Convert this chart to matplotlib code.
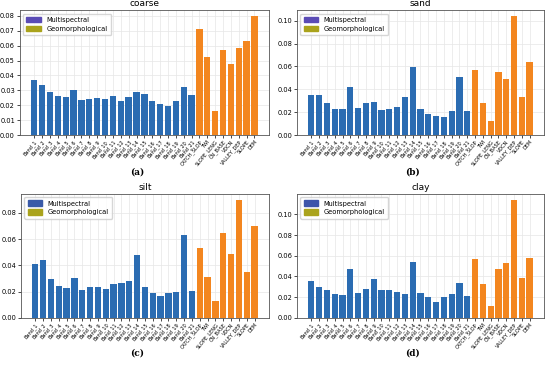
import matplotlib
matplotlib.use('Agg')
import matplotlib.pyplot as plt
from matplotlib.patches import Patch

#------------------------------------------------------------------------------
# DATA (feature importances)

bands = ['Band_%d' % i for i in range(1, 22)]
geomorph = ['CATCH_SLOP', 'TWI', 'SLOPE_LENG', 'CN_BASE', 'VDCN', 'VALLEY_DEP', 'SLOPE', 'DEM']

coarse_ms = [0.0369, 0.0335, 0.0291, 0.0261, 0.0253, 0.0302, 0.0235, 0.0241, 0.0246, 0.0239, 0.0261,
             0.0230, 0.0255, 0.0288, 0.0277, 0.0226, 0.0210, 0.0197, 0.0226, 0.0322, 0.0266]
coarse_geo = [0.0713, 0.0527, 0.0163, 0.0570, 0.0476, 0.0583, 0.0632, 0.0798]

sand_ms = [0.0350, 0.0347, 0.0277, 0.0224, 0.0224, 0.0417, 0.0233, 0.0277, 0.0289, 0.0219, 0.0224,
           0.0245, 0.0330, 0.0592, 0.0230, 0.0180, 0.0163, 0.0155, 0.0210, 0.0510, 0.0210]
sand_geo = [0.0569, 0.0283, 0.0120, 0.0551, 0.0490, 0.1040, 0.0335, 0.0641]

silt_ms = [0.0413, 0.0438, 0.0299, 0.0243, 0.0225, 0.0304, 0.0210, 0.0235, 0.0235, 0.0220, 0.0261,
           0.0266, 0.0281, 0.0476, 0.0233, 0.0192, 0.0170, 0.0190, 0.0197, 0.0628, 0.0208]
silt_geo = [0.0532, 0.0314, 0.0129, 0.0646, 0.0489, 0.0899, 0.0352, 0.0699]

clay_ms = [0.0353, 0.0301, 0.0266, 0.0234, 0.0224, 0.0474, 0.0240, 0.0279, 0.0372, 0.0269, 0.0266,
           0.0247, 0.0234, 0.0542, 0.0240, 0.0199, 0.0157, 0.0199, 0.0231, 0.0337, 0.0208]
clay_geo = [0.0564, 0.0324, 0.0119, 0.0474, 0.0529, 0.1141, 0.0388, 0.0583]

titles = ['coarse', 'sand', 'silt', 'clay']
panels = ['(a)', '(b)', '(c)', '(d)']
ms_data = [coarse_ms, sand_ms, silt_ms, clay_ms]
geo_data = [coarse_geo, sand_geo, silt_geo, clay_geo]

#------------------------------------------------------------------------------
# PLOT

fig = plt.figure(figsize=(5.5, 3.65), dpi=100)

# axes positions [left, bottom, width, height] in figure fraction
positions = [[0.036, 0.630, 0.453, 0.342],
             [0.540, 0.630, 0.449, 0.342],
             [0.038, 0.129, 0.451, 0.340],
             [0.540, 0.129, 0.449, 0.340]]
label_xy = [(0.249, 0.528), (0.750, 0.528), (0.249, 0.033), (0.750, 0.033)]
ms_legend_col = ['#5a4bb5', '#5a4bb5', '#3a5aa8', '#3d55aa']

labels = bands + geomorph
for k in range(4):
    ax = fig.add_axes(positions[k])
    x_ms = list(range(len(bands)))
    x_geo = list(range(len(bands), len(labels)))
    ax.bar(x_ms, ms_data[k], width=0.8, color='#2b6cb2', zorder=2)
    ax.bar(x_geo, geo_data[k], width=0.8, color='#f3861f', zorder=2)
    ax.grid(color='#e6e6e6', linewidth=0.5, zorder=0)
    ax.set_xticks(range(len(labels)))
    ax.set_xticklabels(labels, rotation=50, ha='right', rotation_mode='anchor', fontsize=3.6)
    ax.tick_params(axis='y', labelsize=4.8, length=2, width=0.5, pad=1.5)
    ax.tick_params(axis='x', length=2, width=0.5, pad=1)
    for s in ax.spines.values():
        s.set_linewidth(0.6)
        s.set_color('#555555')
    ax.set_title(titles[k], fontsize=6.5, pad=3)
    handles = [Patch(color=ms_legend_col[k], label='Multispectral'),
               Patch(color='#aaa31c', label='Geomorphological')]
    ax.legend(handles=handles, loc='upper left', fontsize=4.8, handlelength=2.2,
              handleheight=0.9, borderpad=0.5, labelspacing=0.4, framealpha=0.8)
    fig.text(label_xy[k][0], label_xy[k][1], panels[k], ha='center', va='center',
             fontsize=6.5, family='DejaVu Serif', fontweight='bold')

fig.savefig('out.png', dpi=100)
